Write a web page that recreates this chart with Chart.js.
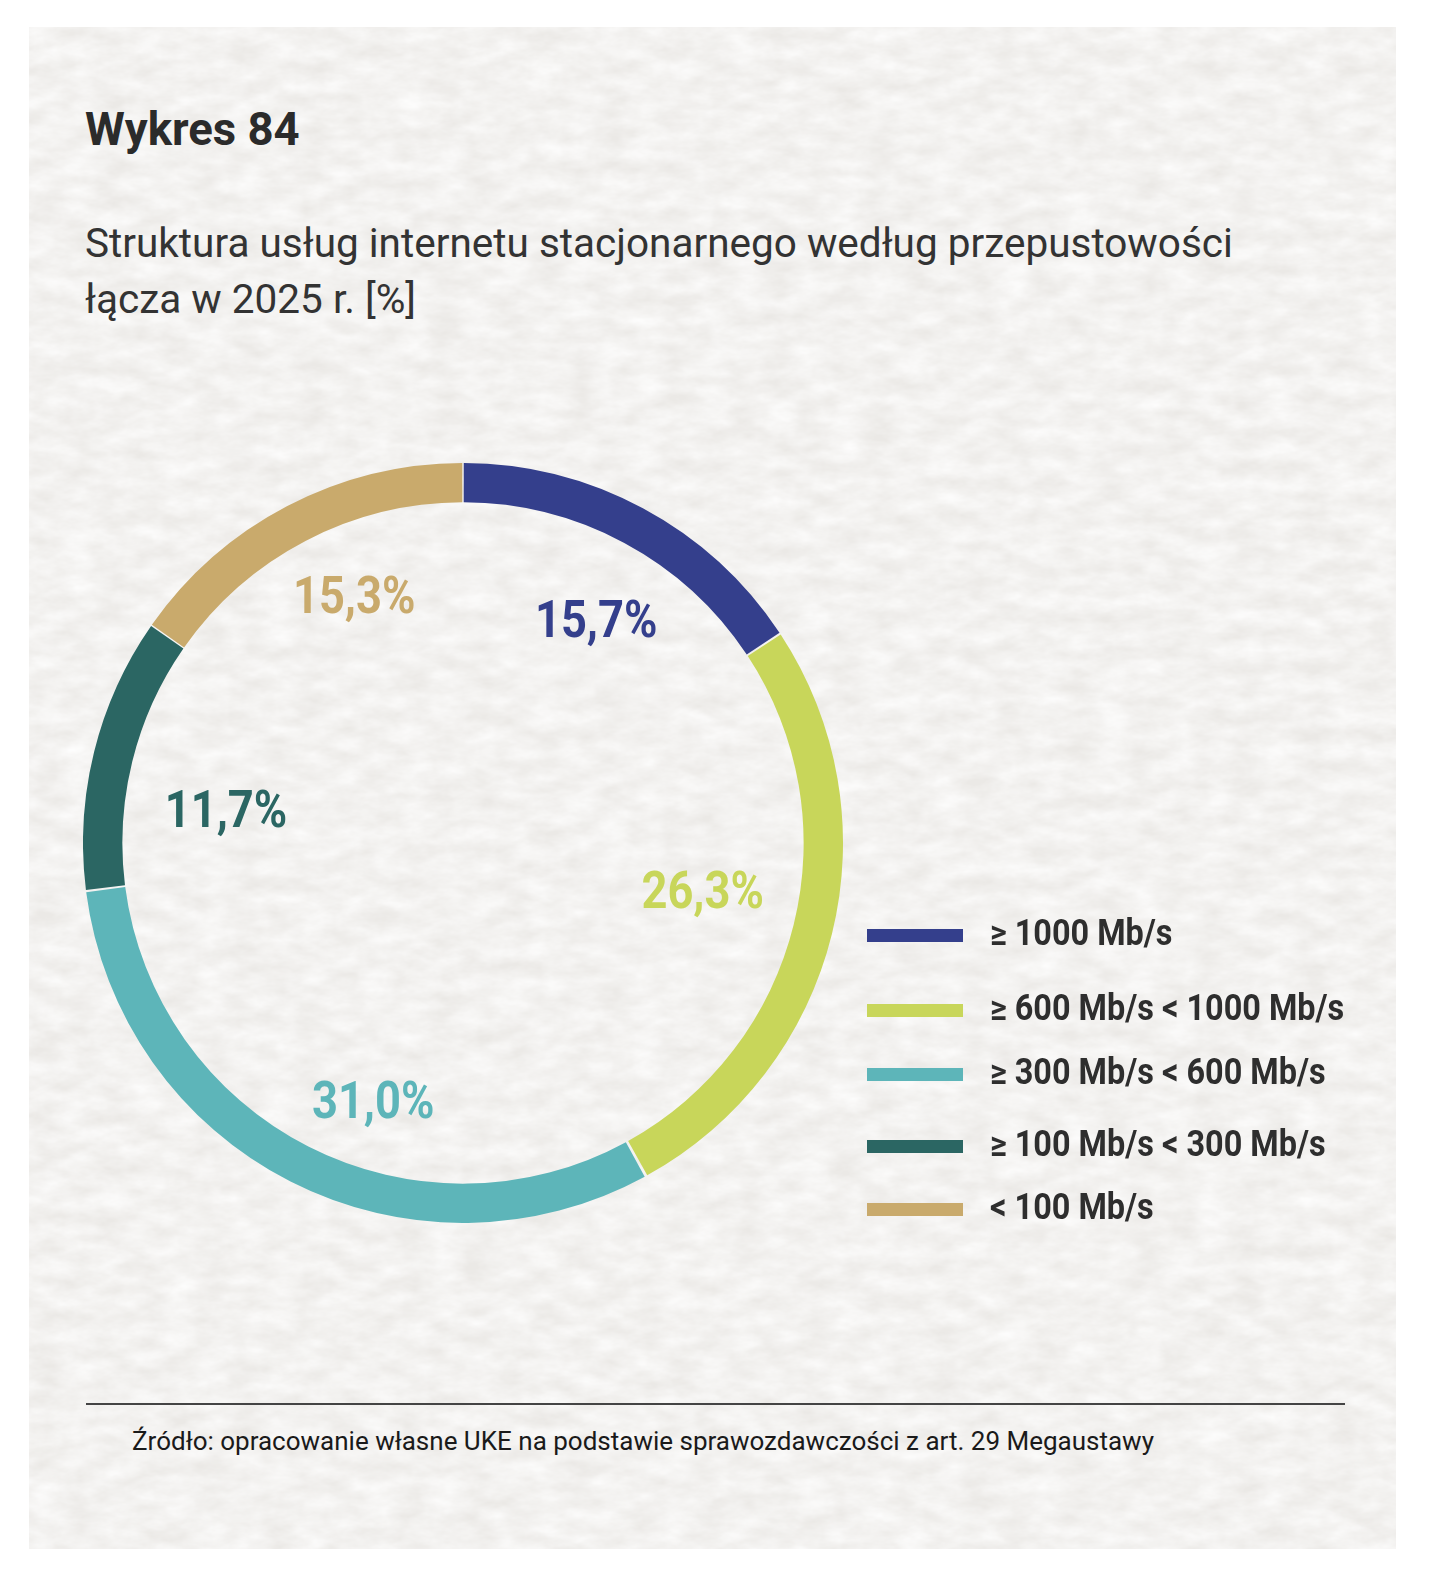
<!DOCTYPE html>
<html lang="pl">
<head>
<meta charset="utf-8">
<script src="https://cdn.jsdelivr.net/npm/chart.js@4.4.1/dist/chart.umd.min.js"></script>
<style>
  html, body { margin: 0; padding: 0; background: #ffffff; }
  body { width: 1440px; height: 1572px; position: relative; font-family: Roboto, "Noto Sans", sans-serif; }
  #card { position: absolute; left: 29px; top: 27px; width: 1367px; height: 1522px;
          background-color: #ebe9e6;
          background-repeat: no-repeat;
          background-size: 1367px 1522px;
          background-image: url("data:image/svg+xml;utf8,<svg xmlns='http://www.w3.org/2000/svg' width='1367' height='1522'><filter id='n' x='0' y='0' width='100%' height='100%'><feTurbulence type='fractalNoise' baseFrequency='0.03 0.06' numOctaves='4' seed='11'/><feColorMatrix values='0 0 0 0 1  0 0 0 0 1  0 0 0 0 1  1.1 0 0 0 -0.15'/></filter><rect width='1367' height='1522' filter='url(%23n)'/></svg>"); }
  #title { position: absolute; left: 85px; top: 103px; margin: 0; font-size: 45.5px; font-weight: 700; color: #2b2b2b; line-height: 54px; }
  #subtitle { position: absolute; left: 85px; top: 215px; margin: 0; font-size: 40.5px; font-weight: 400; color: #333333; line-height: 56px; width: 1300px; }
  #chartWrap { position: absolute; left: 83px; top: 463px; width: 760px; height: 760px; }
  #legend { position: absolute; left: 867px; top: 0; list-style: none; margin: 0; padding: 0; }
  #legend li { position: absolute; left: 0; width: 540px; height: 40px; white-space: nowrap; }
  #legend li:nth-child(1) { top: 915px; }
  #legend li:nth-child(2) { top: 990px; }
  #legend li:nth-child(3) { top: 1054px; }
  #legend li:nth-child(4) { top: 1126px; }
  #legend li:nth-child(5) { top: 1189px; }
  #legend .sw { position: absolute; left: 0; top: 14px; width: 96px; height: 13px; }
  #legend .tx { position: absolute; left: 123px; top: -2px; font-size: 36px; font-weight: 700; color: #2e2e2e; line-height: 40px;
                transform: scaleX(0.9); transform-origin: left center; }
  #rule { position: absolute; left: 86px; top: 1403px; width: 1259px; height: 2px; background: #444444; }
  #source { position: absolute; left: 132px; top: 1426px; font-size: 26px; color: #1a1a1a; line-height: 30px; }
</style>
</head>
<body>
<div id="card"></div>
<h1 id="title">Wykres 84</h1>
<p id="subtitle">Struktura usług internetu stacjonarnego według przepustowości<br>łącza w 2025 r. [%]</p>
<div id="chartWrap"><canvas id="c"></canvas></div>
<ul id="legend"></ul>
<div id="rule"></div>
<div id="source">Źródło: opracowanie własne UKE na podstawie sprawozdawczości z art. 29 Megaustawy</div>
<script>
// ---- data ----
const categories = ['≥ 1000 Mb/s', '≥ 600 Mb/s < 1000 Mb/s', '≥ 300 Mb/s < 600 Mb/s', '≥ 100 Mb/s < 300 Mb/s', '< 100 Mb/s'];
const shares = [15.7, 26.3, 31.0, 11.7, 15.3];
const sliceColors = ['#343f8c', '#c8d65a', '#5db5b9', '#2b6663', '#c9aa6c'];

// ---- label placement style (angle nudge in degrees from slice middle, radius as share of outer radius) ----
const labelAngleNudge = [2.4, -2.9, -7.7, -5.5, 3.9];
const labelRadiusFactor = [0.690, 0.645, 0.718, 0.633, 0.717];

const fmt = v => v.toFixed(1).replace('.', ',') + '%';

// legend (HTML)
const legendEl = document.getElementById('legend');
categories.forEach((name, i) => {
  const li = document.createElement('li');
  const sw = document.createElement('span'); sw.className = 'sw'; sw.style.background = sliceColors[i];
  const tx = document.createElement('span'); tx.className = 'tx'; tx.textContent = name;
  li.appendChild(sw); li.appendChild(tx);
  legendEl.appendChild(li);
});

const labelPlugin = {
  id: 'sliceLabels',
  afterDatasetsDraw(chart) {
    const ctx = chart.ctx;
    const meta = chart.getDatasetMeta(0);
    const fontSize = 52;
    meta.data.forEach((arc, i) => {
      const p = arc.getProps(['x', 'y', 'startAngle', 'endAngle', 'outerRadius']);
      const mid = (p.startAngle + p.endAngle) / 2 + labelAngleNudge[i] * Math.PI / 180;
      const r = p.outerRadius * labelRadiusFactor[i];
      const x = p.x + Math.cos(mid) * r;
      const y = p.y + Math.sin(mid) * r;
      ctx.save();
      ctx.translate(x, y + fontSize * 0.711 / 2);
      ctx.scale(0.87, 1);
      ctx.font = '700 ' + fontSize + 'px Roboto, "Noto Sans", sans-serif';
      ctx.fillStyle = sliceColors[i];
      ctx.textAlign = 'center';
      ctx.textBaseline = 'alphabetic';
      ctx.fillText(fmt(shares[i]), 0, 0);
      ctx.restore();
    });
  }
};

new Chart(document.getElementById('c'), {
  type: 'doughnut',
  data: {
    labels: categories,
    datasets: [{
      data: shares,
      backgroundColor: sliceColors,
      borderWidth: 0,
      spacing: 3
    }]
  },
  options: {
    responsive: true,
    maintainAspectRatio: false,
    animation: false,
    cutout: '89.6%',
    layout: { padding: 0 },
    plugins: { legend: { display: false }, tooltip: { enabled: false } }
  },
  plugins: [labelPlugin]
});
</script>
</body>
</html>
